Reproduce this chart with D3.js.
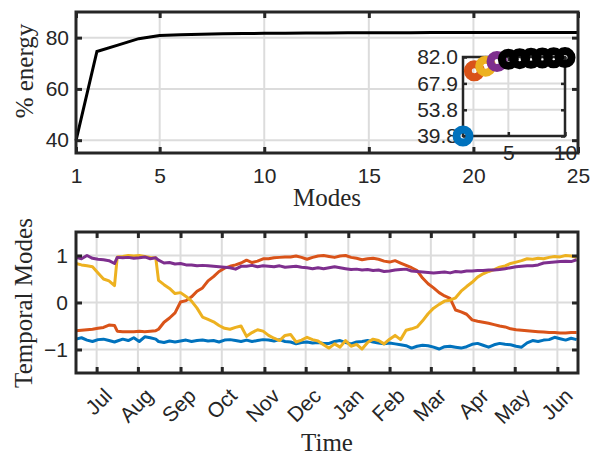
<!DOCTYPE html>
<html>
<head>
<meta charset="utf-8">
<script src="https://d3js.org/d3.v7.min.js"></script>
<style>
body { margin:0; background:#fff; }
svg text { fill:#262626; }
.tick text { font-family:"Liberation Sans", Arial, sans-serif; font-size:21px; }
.lbl { font-family:"Liberation Serif", "Times New Roman", serif; font-size:25px; }
</style>
</head>
<body>
<div id="chart"></div>
<script>
var width = 592;
var height = 460;
var axisColor = "#262626";
var gridColor = "#dcdcdc";

// top panel: cumulative % energy per mode
var modes = [1,2,3,4,5,6,7,8,9,10,11,12,13,14,15,16,17,18,19,20,21,22,23,24,25];
var energy = [39.8,74.6,77.1,79.6,80.8,81.1,81.3,81.5,81.6,81.7,81.75,81.8,81.85,81.88,81.9,81.92,81.94,81.96,81.97,81.98,81.99,82.0,82.0,82.0,82.0];
var energyTicksX = [1,5,10,15,20,25];
var energyTicksY = [40,60,80];
var insetTicksX = [5,10];
var insetTicksY = [39.8,53.8,67.9,82.0];
var insetColors = ["#0072BD","#D95319","#EDB120","#7E2F8E","#000","#000","#000","#000","#000","#000"];

// bottom panel: temporal modes, day index from mid June
var months = ["Jul","Aug","Sep","Oct","Nov","Dec","Jan","Feb","Mar","Apr","May","Jun"];
var monthDays = [15,45,76,106,137,167,198,228,258,289,319,350];
var modeTicksY = [-1,0,1];
var days = [0,4,8,12,16,20,24,28,30,34,38,42,46,50,54,58,60,64,68,72,76,80,84,88,92,96,100,104,108,112,116,120,124,128,132,136,140,144,148,152,156,160,164,168,172,176,180,184,188,192,196,200,204,208,212,216,220,224,228,232,236,240,244,248,252,256,260,264,268,272,276,280,284,288,292,296,300,304,308,312,316,320,324,328,332,336,340,344,348,352,356,360,364];
var mode1 = [-0.78,-0.75,-0.80,-0.83,-0.79,-0.78,-0.81,-0.84,-0.82,-0.78,-0.81,-0.75,-0.83,-0.73,-0.75,-0.78,-0.83,-0.85,-0.82,-0.84,-0.82,-0.80,-0.83,-0.81,-0.80,-0.82,-0.81,-0.84,-0.80,-0.79,-0.81,-0.83,-0.80,-0.83,-0.81,-0.79,-0.80,-0.82,-0.79,-0.83,-0.84,-0.88,-0.85,-0.84,-0.86,-0.85,-0.87,-0.87,-0.83,-0.81,-0.85,-0.88,-0.84,-0.83,-0.81,-0.84,-0.86,-0.88,-0.86,-0.88,-0.90,-0.92,-0.97,-0.93,-0.91,-0.92,-0.95,-0.99,-0.94,-0.93,-0.95,-0.97,-0.94,-0.89,-0.87,-0.91,-0.95,-0.90,-0.87,-0.89,-0.90,-0.93,-0.95,-0.86,-0.81,-0.83,-0.80,-0.79,-0.74,-0.77,-0.80,-0.76,-0.79];
var mode2 = [-0.60,-0.59,-0.58,-0.57,-0.55,-0.53,-0.48,-0.49,-0.61,-0.62,-0.62,-0.62,-0.61,-0.62,-0.61,-0.60,-0.57,-0.42,-0.33,-0.22,0.01,0.04,0.12,0.24,0.31,0.46,0.55,0.66,0.73,0.77,0.80,0.84,0.90,0.85,0.88,0.93,0.93,0.95,0.96,0.97,0.97,0.99,0.96,0.92,0.96,0.99,1.00,0.98,0.96,0.99,1.00,0.96,0.94,0.91,0.93,0.94,0.92,0.88,0.86,0.89,0.84,0.79,0.74,0.68,0.52,0.40,0.31,0.21,0.14,0.09,-0.16,-0.20,-0.25,-0.37,-0.40,-0.42,-0.44,-0.47,-0.50,-0.52,-0.56,-0.58,-0.59,-0.60,-0.61,-0.62,-0.63,-0.64,-0.64,-0.65,-0.65,-0.64,-0.64];
var mode3 = [0.83,0.80,0.78,0.76,0.63,0.50,0.46,0.36,0.97,0.98,1.00,0.99,1.00,0.98,0.96,0.95,0.47,0.38,0.30,0.19,0.21,0.13,0.03,-0.12,-0.31,-0.36,-0.41,-0.49,-0.55,-0.57,-0.53,-0.50,-0.72,-0.64,-0.58,-0.61,-0.70,-0.76,-0.81,-0.70,-0.68,-0.84,-0.80,-0.74,-0.79,-0.82,-0.90,-0.97,-0.88,-0.95,-0.81,-0.93,-0.89,-0.99,-0.85,-0.78,-0.81,-0.88,-0.78,-0.70,-0.79,-0.59,-0.56,-0.52,-0.39,-0.24,-0.12,-0.04,0.03,0.05,0.10,0.24,0.34,0.43,0.54,0.61,0.66,0.70,0.75,0.78,0.83,0.86,0.89,0.93,0.92,0.94,0.93,0.96,0.98,0.97,1.00,0.99,0.96];
var mode4 = [0.96,0.93,1.00,0.94,0.92,0.91,0.89,0.83,0.96,0.95,0.96,0.94,0.95,0.97,0.93,0.95,0.90,0.84,0.85,0.82,0.83,0.80,0.80,0.78,0.79,0.78,0.77,0.76,0.75,0.74,0.71,0.77,0.77,0.79,0.76,0.78,0.77,0.76,0.78,0.75,0.76,0.77,0.75,0.74,0.72,0.74,0.72,0.74,0.76,0.74,0.72,0.70,0.71,0.69,0.70,0.68,0.69,0.66,0.67,0.69,0.70,0.71,0.67,0.66,0.65,0.64,0.63,0.64,0.65,0.63,0.66,0.65,0.67,0.67,0.68,0.68,0.69,0.69,0.70,0.72,0.74,0.76,0.77,0.78,0.78,0.80,0.84,0.85,0.86,0.87,0.88,0.87,0.91];
var modeColors = ["#0072BD","#D95319","#EDB120","#7E2F8E"];

var svg = d3.select("#chart")
	.append("svg")
	.attr("width", width)
	.attr("height", height)
	.style("background", "#fff");

// scales
var x1 = d3.scaleLinear().domain([1,25]).range([76,578]);
var y1 = d3.scaleLinear().domain([35,90]).range([153,12]);
var xi = d3.scaleLinear().domain([1,10]).range([463,565]);
var yi = d3.scaleLinear().domain([39.8,82.0]).range([136,57]);
var x2 = d3.scaleLinear().domain([0,365]).range([76,578]);
var y2 = d3.scaleLinear().domain([-1.5,1.5]).range([373,232]);

function grid(x, y, xt, yt, w) {
	var g = svg.append("g");
	g.selectAll(".gx").data(xt).enter().append("line")
		.attr("x1", x).attr("x2", x)
		.attr("y1", y.range()[0]).attr("y2", y.range()[1])
		.style("stroke", gridColor).style("stroke-width", w);
	g.selectAll(".gy").data(yt).enter().append("line")
		.attr("y1", y).attr("y2", y)
		.attr("x1", x.range()[0]).attr("x2", x.range()[1])
		.style("stroke", gridColor).style("stroke-width", w);
}

// box with inward ticks on all four sides, labels on bottom/left
function frame(x, y, xt, yt, opt) {
	var x0 = x.range()[0], xw = x.range()[1];
	var yb = y.range()[0], yh = y.range()[1];
	var g = svg.append("g");
	var bottom = g.append("g").attr("transform", "translate(0," + yb + ")")
		.call(d3.axisBottom(x).tickValues(xt).tickSize(-opt.tick).tickPadding(opt.padX).tickFormat(opt.fmtX));
	g.append("g").attr("transform", "translate(0," + yh + ")")
		.call(d3.axisTop(x).tickValues(xt).tickSize(-opt.tick).tickFormat(""));
	g.append("g").attr("transform", "translate(" + x0 + ",0)")
		.call(d3.axisLeft(y).tickValues(yt).tickSize(-opt.tick).tickPadding(opt.padY).tickFormat(opt.fmtY));
	g.append("g").attr("transform", "translate(" + xw + ",0)")
		.call(d3.axisRight(y).tickValues(yt).tickSize(-opt.tick).tickFormat(""));
	g.selectAll(".domain").remove();
	g.selectAll(".tick line").style("stroke", axisColor).style("stroke-width", opt.lw);
	g.selectAll(".tick text").style("fill", axisColor);
	g.append("rect")
		.attr("x", x0).attr("y", yh)
		.attr("width", xw - x0).attr("height", yb - yh)
		.style("fill", "none").style("stroke", axisColor).style("stroke-width", opt.lw);
	return bottom;
}

// ---- top panel
grid(x1, y1, energyTicksX, energyTicksY, 2);
svg.append("path")
	.datum(modes)
	.attr("d", d3.line().x(function(d) { return x1(d); }).y(function(d, i) { return y1(energy[i]); }))
	.style("fill", "none").style("stroke", "#000").style("stroke-width", 3);
frame(x1, y1, energyTicksX, energyTicksY, {tick:6, padX:15, padY:7, lw:3, fmtX:d3.format("d"), fmtY:d3.format("d")});

svg.append("text").attr("class", "lbl")
	.attr("x", 327).attr("y", 206)
	.attr("text-anchor", "middle")
	.text("Modes");
svg.append("text").attr("class", "lbl")
	.attr("transform", "translate(33,71) rotate(-90)")
	.attr("text-anchor", "middle")
	.text("% energy");

// inset: first ten modes
grid(xi, yi, insetTicksX, insetTicksY, 2);
frame(xi, yi, insetTicksX, insetTicksY, {tick:4, padX:9, padY:5, lw:2.5, fmtX:d3.format("d"), fmtY:d3.format(".1f")});
svg.append("g")
	.selectAll("circle")
	.data(modes.slice(0, 10))
	.enter()
	.append("circle")
	.attr("cx", function(d) { return xi(d); })
	.attr("cy", function(d, i) { return yi(energy[i]); })
	.attr("r", 6.5)
	.style("fill", "none")
	.style("stroke", function(d, i) { return insetColors[i]; })
	.style("stroke-width", 8);

// ---- bottom panel
grid(x2, y2, monthDays, modeTicksY, 2);
var series = [mode1, mode2, mode3, mode4];
var line = d3.line()
	.x(function(d, i) { return x2(days[i]); })
	.y(function(d) { return y2(d); });
svg.append("g")
	.selectAll("path")
	.data(series)
	.enter()
	.append("path")
	.attr("d", line)
	.style("fill", "none")
	.style("stroke", function(d, i) { return modeColors[i]; })
	.style("stroke-width", 3)
	.style("stroke-linejoin", "round");

var xAxis2 = frame(x2, y2, monthDays, modeTicksY, {tick:6, padX:10, padY:8, lw:3,
	fmtX:function(d, i) { return months[i]; }, fmtY:d3.format("d")});
xAxis2.selectAll(".tick text")
	.attr("x", 0).attr("y", 0).attr("dy", "0.35em")
	.attr("transform", "translate(11,19) rotate(-45)")
	.style("text-anchor", "end");

svg.append("text").attr("class", "lbl")
	.attr("x", 327).attr("y", 451)
	.attr("text-anchor", "middle")
	.text("Time");
svg.append("text").attr("class", "lbl")
	.attr("transform", "translate(32,303) rotate(-90)")
	.attr("text-anchor", "middle")
	.text("Temporal Modes");
</script>
</body>
</html>
